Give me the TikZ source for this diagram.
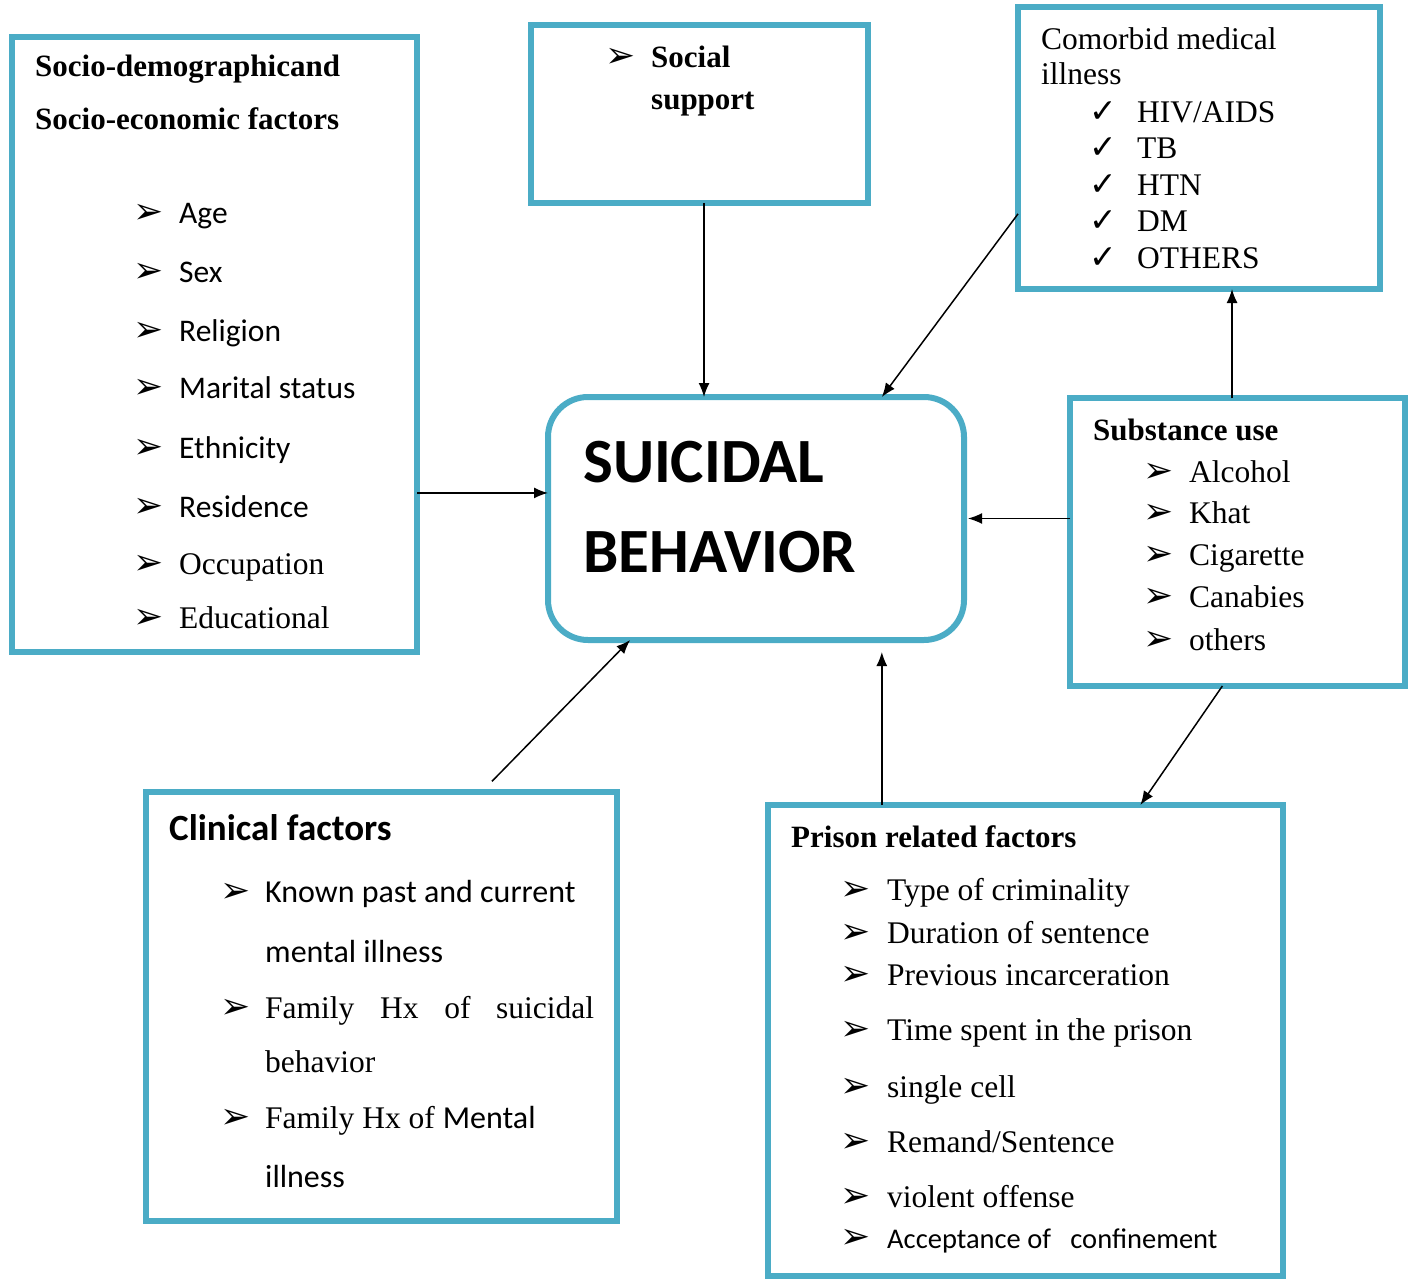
\documentclass[tikz,border=0pt]{standalone}
\usepackage{fontspec}
\setmainfont{Liberation Serif}
\newfontfamily\calibri{Carlito}
\newfontfamily\dejavu{DejaVu Sans}
\usetikzlibrary{arrows.meta}
\definecolor{boxblue}{RGB}{75,172,198}
\tikzset{
    factorbox/.style={draw=boxblue,line width=6pt,inner sep=0pt,outer sep=0pt},
    txt/.style={anchor=base west,inner sep=0pt,font=\fontsize{31.5}{36}\selectfont},
    ctxt/.style={txt,font=\calibri\fontsize{32}{36}\selectfont},
    btxt/.style={txt,font=\bfseries\fontsize{31}{36}\selectfont},
    blt/.style={anchor=base west,inner sep=0pt,font=\dejavu\fontsize{36}{36}\selectfont},
    chk/.style={anchor=base west,inner sep=0pt,font=\dejavu\fontsize{33}{33}\selectfont},
    arr/.style={-{Latex[length=14pt,width=11pt]},line width=1.5pt},
}
\begin{document}
\begin{tikzpicture}[x=1pt,y=-1pt]
    \useasboundingbox (0,0) rectangle (1413,1279);
            % boxes
            \node[factorbox,minimum width=405pt,minimum height=615pt] (socio) at (214.5,344.5) {};
            \node[factorbox,minimum width=337pt,minimum height=178pt] (social) at (699.5,114) {};
            \node[factorbox,minimum width=362pt,minimum height=282pt] (comorbid) at (1199,148) {};
            \node[factorbox,minimum width=335pt,minimum height=288pt] (substance) at (1237.5,542) {};
            \node[factorbox,rounded corners=40pt,minimum width=416pt,minimum height=243pt] (suicidal) at (756,518.5) {};
            \node[factorbox,minimum width=471pt,minimum height=429pt] (clinical) at (381.5,1006.5) {};
            \node[factorbox,minimum width=515pt,minimum height=471pt] (prison) at (1025.5,1040.5) {};
            % socio-demographic
            \node[btxt] (socio-t1) at (35,77) {Socio-demographicand};
            \node[btxt] (socio-t2) at (35,130) {Socio-economic factors};
            \foreach \y/\f/\t [count=\i] in {223/\calibri/Age,282/\calibri/Sex,341/\calibri/Religion,398/\calibri/Marital status,458/\calibri/Ethnicity,517/\calibri/Residence,574/\rmfamily/Occupation,628/\rmfamily/Educational}{
                \node[blt] (socio-b\i) at (133,\y) {➢};
                \node[txt] (socio-i\i) at (179,\y) {\f\t};
            }
            % social support
            \node[blt] (social-b1) at (605,68) {➢};
            \node[btxt] (social-t1) at (651,68) {Social};
            \node[btxt] (social-t2) at (651,110) {support};
            % comorbid
            \node[txt] (comorbid-t1) at (1041,50) {Comorbid medical};
            \node[txt] (comorbid-t2) at (1041,85) {illness};
            \foreach \y/\t [count=\i] in {123/{HIV/AIDS},158/TB,195/HTN,231/DM,268/OTHERS}{
                \node[chk] (comorbid-c\i) at (1089,\y) {✓};
                \node[txt] (comorbid-i\i) at (1137,\y) {\t};
            }
            % substance use
            \node[btxt] (substance-t1) at (1093,440) {Substance use};
            \foreach \y/\t [count=\i] in {482/Alcohol,523/Khat,565/Cigarette,607/Canabies,650/others}{
                \node[blt] (substance-b\i) at (1143,\y) {➢};
                \node[txt] (substance-i\i) at (1189,\y) {\t};
            }
            % suicidal behavior
            \node[txt,font=\calibri\bfseries\fontsize{63}{70}\selectfont] (suicidal-t1) at (583,482) {SUICIDAL};
            \node[txt,font=\calibri\bfseries\fontsize{63}{70}\selectfont] (suicidal-t2) at (583,572) {BEHAVIOR};
            % clinical
            \node[txt,font=\calibri\bfseries\fontsize{37}{42}\selectfont] (clinical-t1) at (169,840) {Clinical factors};
            \node[blt] (clinical-b1) at (220,902) {➢};
            \node[ctxt] (clinical-i1) at (265,902) {Known past and current};
            \node[ctxt] (clinical-i2) at (265,962) {mental illness};
            \node[blt] (clinical-b2) at (220,1018) {➢};
            \node[txt] (clinical-i3) at (265,1018) {\makebox[329pt][s]{Family Hx of suicidal}};
            \node[txt] (clinical-i4) at (265,1072) {behavior};
            \node[blt] (clinical-b3) at (220,1128) {➢};
            \node[txt] (clinical-i5) at (265,1128) {Family Hx of {\calibri\fontsize{32}{36}\selectfont Mental}};
            \node[ctxt] (clinical-i6) at (265,1187) {illness};
            % prison
            \node[btxt] (prison-t1) at (791,847) {Prison related factors};
            \foreach \y/\t [count=\i] in {900/Type of criminality,943/Duration of sentence,985/Previous incarceration,1040/Time spent in the prison,1097/single cell,1152/{Remand/Sentence},1207/violent offense}{
                \node[blt] (prison-b\i) at (840,\y) {➢};
                \node[txt] (prison-i\i) at (887,\y) {\t};
            }
            \node[blt] (prison-b8) at (840,1248) {➢};
            \node[ctxt,font=\calibri\fontsize{28.5}{32}\selectfont] (prison-i8) at (887,1248) {Acceptance of\ \ \ confinement};
            % connectors
            \draw[arr] (socio.east |- suicidal.173) -- (suicidal.173);
            \draw[arr] ([xshift=4.5pt]social.south) -- ([xshift=4.5pt]social.south |- suicidal.north);
            \draw[arr] (comorbid.200) -- (suicidal.44);
            \draw[arr] (substance.west |- suicidal.east) -- ([xshift=4pt]suicidal.east);
            \draw[arr] ([xshift=-5.5pt]substance.north) -- ([xshift=-5.5pt]substance.north |- comorbid.south);
            \draw[arr] (substance.264) -- (prison.64);
            \draw[arr,shorten >=12pt] (suicidal.44 |- prison.north) -- (suicidal.44 |- suicidal.south);
            \draw[arr,shorten <=15pt] (clinical.65.6) -- (suicidal.224);
        \end{tikzpicture}
\end{document}
